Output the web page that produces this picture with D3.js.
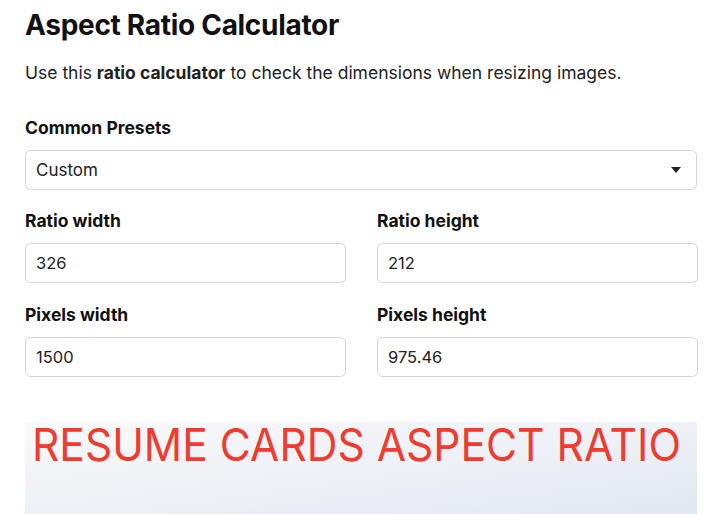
<!DOCTYPE html>
<html>
<head>
<meta charset="utf-8">
<script src="https://cdn.jsdelivr.net/npm/d3@7"></script>
<style>
  body { margin: 0; background: #fff; }
  text { font-family: Inter, "Noto Sans", sans-serif; }
</style>
</head>
<body>
<div id="chart-area"></div>
<script>
// form content
var fieldLabels = ["Ratio width", "Ratio height", "Pixels width", "Pixels height"];
var fieldValues = ["326", "212", "1500", "975.46"];
var presetLabel = "Common Presets";
var presetValue = "Custom";
var banner = "RESUME CARDS ASPECT RATIO";

var svg = d3.select("#chart-area")
  .append("svg")
    .attr("width", 715)
    .attr("height", 514);

var defs = svg.append("defs");
var grad = defs.append("linearGradient")
  .attr("id", "bg").attr("x1", "0").attr("y1", "0").attr("x2", "1").attr("y2", "1");
grad.append("stop").attr("offset", "0").attr("stop-color", "#f8f9fa");
grad.append("stop").attr("offset", "0.5").attr("stop-color", "#eef1f6");
grad.append("stop").attr("offset", "1").attr("stop-color", "#e2e8f0");

svg.append("text")
  .attr("x", 25).attr("y", 35)
  .attr("font-size", 28).attr("font-weight", 700).attr("fill", "#111")
  .attr("letter-spacing", -0.3)
  .text("Aspect Ratio Calculator");

var sub = svg.append("text")
  .attr("x", 25).attr("y", 79)
  .attr("font-size", 17.5).attr("fill", "#222");
sub.append("tspan").text("Use this ");
sub.append("tspan").attr("font-weight", 700).text("ratio calculator");
sub.append("tspan").text(" to check the dimensions when resizing images.");

svg.append("text")
  .attr("x", 25).attr("y", 134)
  .attr("font-size", 17.5).attr("font-weight", 700).attr("fill", "#111")
  .text(presetLabel);

svg.append("rect")
  .attr("x", 25.5).attr("y", 150.5).attr("width", 671).attr("height", 39)
  .attr("rx", 5).attr("fill", "#fff").attr("stroke", "#d4d4d4");
svg.append("text")
  .attr("x", 36).attr("y", 176)
  .attr("font-size", 17).attr("fill", "#222")
  .text(presetValue);
svg.append("path")
  .attr("d", "M671,167 L681,167 L676,173 Z")
  .attr("fill", "#222");

// grid positions for the four inputs
var col = d3.scalePoint().domain([0, 1]).range([25, 377]);
var row = d3.scalePoint().domain([0, 1]).range([0, 94]);

var g = svg.selectAll("g.field")
  .data(fieldLabels)
  .enter()
  .append("g")
    .attr("class", "field")
    .attr("transform", function(d, i) {
      return "translate(" + col(i % 2) + "," + row(Math.floor(i / 2)) + ")";
    });

g.append("text")
  .attr("x", 0).attr("y", 227)
  .attr("font-size", 17.5).attr("font-weight", 700).attr("fill", "#111")
  .text(function(d) { return d; });

g.append("rect")
  .attr("x", 0.5).attr("y", 243.5).attr("width", 320).attr("height", 39)
  .attr("rx", 5).attr("fill", "#fff").attr("stroke", "#d4d4d4");

g.append("text")
  .attr("x", 11).attr("y", 269)
  .attr("font-size", 16.5).attr("fill", "#222")
  .text(function(d, i) { return fieldValues[i]; });

svg.append("rect")
  .attr("x", 25).attr("y", 422).attr("width", 672).attr("height", 92)
  .attr("fill", "url(#bg)");

svg.append("text")
  .attr("x", 32).attr("y", 461)
  .attr("font-family", "'Liberation Sans Narrow', 'Liberation Sans', Arial, sans-serif")
  .attr("font-size", 45).attr("fill", "#f03c30")
  .attr("textLength", 649).attr("lengthAdjust", "spacingAndGlyphs")
  .text(banner);
</script>
</body>
</html>
